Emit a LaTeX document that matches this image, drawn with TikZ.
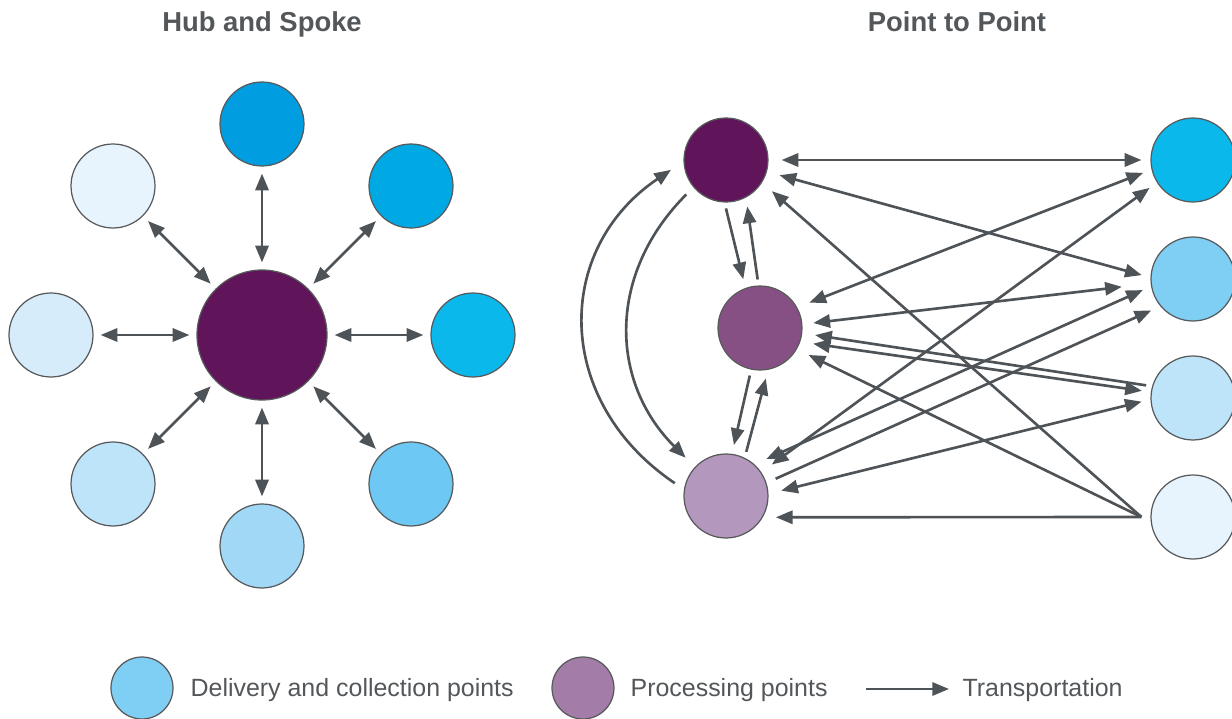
\documentclass[tikz,border=0pt]{standalone}
\usepackage{fontspec}
\setmainfont{Liberation Sans}
\usepackage{tikz}
\usetikzlibrary{arrows.meta}

\definecolor{plum}{HTML}{60145A}
\definecolor{mauve}{HTML}{875085}
\definecolor{lilac}{HTML}{B497BC}
\definecolor{orchid}{HTML}{A47CA8}
\definecolor{sky1}{HTML}{009EE0}
\definecolor{sky2}{HTML}{00A8E4}
\definecolor{sky3}{HTML}{0BB8EB}
\definecolor{sky4}{HTML}{6DC9F3}
\definecolor{sky5}{HTML}{A0D8F6}
\definecolor{sky6}{HTML}{BDE4F9}
\definecolor{sky7}{HTML}{D6ECFB}
\definecolor{sky8}{HTML}{E8F4FD}
\definecolor{pale}{HTML}{7FCEF3}
\definecolor{rim}{HTML}{58595B}
\definecolor{wire}{HTML}{4E5358}
\definecolor{ink}{HTML}{53575A}

\begin{document}
\begin{tikzpicture}[x=0.02cm, y=0.02cm]
        \tikzstyle{every node} = [circle, draw=rim, line width=0.7pt, minimum size=1.68cm, inner sep=0pt]
        \tikzstyle{heading} = [rectangle, draw=none, anchor=base, text=ink, font=\bfseries\fontsize{15.6}{18}\selectfont]
        \tikzstyle{legendtext} = [rectangle, draw=none, anchor=base west, text=ink, font=\fontsize{14.2}{17}\selectfont]
        \tikzstyle{link} = [draw=wire, line width=1.5pt, >={Triangle[length=9.5pt,width=7.5pt]}]
        \useasboundingbox (0,0) rectangle (1232,-719);

        % hub and spoke
        \node[heading] (t1) at (262,-32) {Hub and Spoke};
        \node[fill=plum, minimum size=2.6cm] (hub) at (262,-335) {};
        \node[fill=sky1] (s1) at (262,-124) {};
        \node[fill=sky2] (s2) at (411,-186) {};
        \node[fill=sky3] (s3) at (473,-335) {};
        \node[fill=sky4] (s4) at (411,-484) {};
        \node[fill=sky5] (s5) at (262,-546) {};
        \node[fill=sky6] (s6) at (113,-484) {};
        \node[fill=sky7] (s7) at (51,-335) {};
        \node[fill=sky8] (s8) at (113,-186) {};

        \foreach \i in {1,...,8}
            \draw[link, <->, shorten <=0.14cm, shorten >=0.14cm] (hub) -- (s\i);

        % point to point
        \node[heading] (t2) at (957,-32) {Point to Point};
        \node[fill=plum] (p1) at (726,-160) {};
        \node[fill=mauve] (p2) at (760,-328) {};
        \node[fill=lilac] (p3) at (726,-496) {};
        \node[fill=sky3] (d1) at (1193,-160) {};
        \node[fill=pale] (d2) at (1193,-279) {};
        \node[fill=sky6] (d3) at (1193,-398) {};
        \node[fill=sky8] (d4) at (1193,-517) {};
        \coordinate (d4w) at ([xshift=-0.18cm]d4.west);

        \foreach \from/\to in {p1.0/d1.180, p1.-16/d2.178, p2.29/d1.193, p2.-19/d3.172, p3.34/d1.212, p3.48/d2.190, p3.3/d3.182}
            \draw[link, <->, shorten <=0.26cm, shorten >=0.18cm] (\from) -- (\to);
        \draw[link, <->, shorten <=0.22cm, shorten >=0.58cm] (p2.5) -- (d2.186);
        \draw[link, ->, shorten <=0.2cm, shorten >=0.2cm] (p3.18) -- (d2.220);
        \draw[link, <-, shorten <=0.26cm, shorten >=0.12cm] (p2.-7) -- (d3.164);
        \foreach \from in {p1.-32, p2.-30, p3.-30}
            \draw[link, <-, shorten <=0.26cm] (\from) -- (d4w);

        \foreach \from/\to in {p1.-92/p2.110, p2.92/p1.-62, p2.-102/p3.82, p3.64/p2.-79}
            \draw[link, ->, shorten <=0.12cm, shorten >=0.18cm] (\from) -- (\to);

        \draw[link, ->, shorten <=0.22cm, shorten >=0.3cm] (p3.171) to[out=146, in=214, looseness=1.23] (p1.182);
        \draw[link, ->, shorten <=0.2cm, shorten >=0.26cm] (p1.220) to[out=225, in=135, looseness=1.11] (p3.137);

        % legend
        \node[fill=pale, minimum size=1.24cm] (k1) at (142,-688) {};
        \node[legendtext] (k1t) at (190,-697) {Delivery and collection points};
        \node[fill=orchid, minimum size=1.24cm] (k2) at (583,-688) {};
        \node[legendtext] (k2t) at (630,-697) {Processing points};
        \node[legendtext] (k3t) at (962,-697) {Transportation};
        \coordinate (k3) at (866,-689);
        \draw[link, ->, shorten >=0.26cm] (k3) -- (k3t.west |- k3);
\end{tikzpicture}
\end{document}
